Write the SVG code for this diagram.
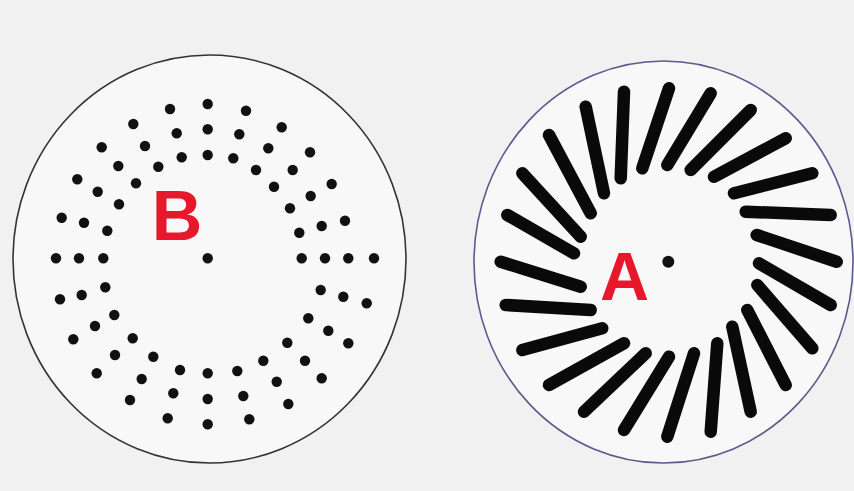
<svg xmlns="http://www.w3.org/2000/svg" width="854" height="491" viewBox="0 0 854 491">
<style>
.bg{fill:#f1f1f1}
.ring{fill:#f8f8f8;stroke-width:1.6}
.d{fill:#111}
.bar{stroke:#0a0a0a;stroke-width:12.5;stroke-linecap:round;fill:none}
.lbl{font-family:"Liberation Sans",Arial,sans-serif;font-weight:bold;fill:#e8182c;text-anchor:middle}
</style>
<rect class="bg" x="0" y="0" width="854" height="491"/>
<g id="diagramB">
<ellipse class="ring" cx="209.5" cy="259" rx="196.5" ry="204" stroke="#333"/>
<g id="dotsB">
<circle class="d" cx="207.7" cy="104" r="5.2"/><circle class="d" cx="207.7" cy="129.3" r="5.2"/><circle class="d" cx="207.7" cy="155" r="5.2"/>
<circle class="d" cx="170" cy="109" r="5.2"/><circle class="d" cx="176.7" cy="133.3" r="5.2"/><circle class="d" cx="181.7" cy="157.3" r="5.2"/>
<circle class="d" cx="246" cy="110.7" r="5.2"/><circle class="d" cx="239.3" cy="134.3" r="5.2"/><circle class="d" cx="233.3" cy="158.3" r="5.2"/>
<circle class="d" cx="133.3" cy="124" r="5.2"/><circle class="d" cx="145" cy="146" r="5.2"/><circle class="d" cx="158.3" cy="166.7" r="5.2"/>
<circle class="d" cx="281.7" cy="127.3" r="5.2"/><circle class="d" cx="268.3" cy="148.3" r="5.2"/><circle class="d" cx="256" cy="170" r="5.2"/>
<circle class="d" cx="101.7" cy="147.3" r="5.2"/><circle class="d" cx="118.3" cy="166" r="5.2"/><circle class="d" cx="136" cy="183.3" r="5.2"/>
<circle class="d" cx="310" cy="152.3" r="5.2"/><circle class="d" cx="292.7" cy="170" r="5.2"/><circle class="d" cx="274" cy="186.7" r="5.2"/>
<circle class="d" cx="77.3" cy="179.3" r="5.2"/><circle class="d" cx="97.7" cy="191.7" r="5.2"/><circle class="d" cx="119" cy="204.3" r="5.2"/>
<circle class="d" cx="331.7" cy="184" r="5.2"/><circle class="d" cx="310.7" cy="196" r="5.2"/><circle class="d" cx="290" cy="208.3" r="5.2"/>
<circle class="d" cx="61.7" cy="217.7" r="5.2"/><circle class="d" cx="84" cy="222.7" r="5.2"/><circle class="d" cx="107.3" cy="230.7" r="5.2"/>
<circle class="d" cx="345" cy="220.7" r="5.2"/><circle class="d" cx="321.7" cy="226" r="5.2"/><circle class="d" cx="299.3" cy="232.7" r="5.2"/>
<circle class="d" cx="56" cy="258.3" r="5.2"/><circle class="d" cx="79" cy="258.3" r="5.2"/><circle class="d" cx="103.3" cy="258.3" r="5.2"/>
<circle class="d" cx="301.7" cy="258.3" r="5.2"/><circle class="d" cx="325" cy="258.3" r="5.2"/><circle class="d" cx="348.3" cy="258.3" r="5.2"/><circle class="d" cx="374" cy="258.3" r="5.2"/>
<circle class="d" cx="60" cy="299.3" r="5.2"/><circle class="d" cx="81.7" cy="295" r="5.2"/><circle class="d" cx="105.3" cy="287.3" r="5.2"/>
<circle class="d" cx="366.7" cy="303.3" r="5.2"/><circle class="d" cx="343.3" cy="296.7" r="5.2"/><circle class="d" cx="320.7" cy="290" r="5.2"/>
<circle class="d" cx="73.3" cy="339.3" r="5.2"/><circle class="d" cx="95" cy="326" r="5.2"/><circle class="d" cx="114.3" cy="315" r="5.2"/>
<circle class="d" cx="348.3" cy="343.3" r="5.2"/><circle class="d" cx="328.3" cy="330.7" r="5.2"/><circle class="d" cx="308.3" cy="318.3" r="5.2"/>
<circle class="d" cx="96.7" cy="373.3" r="5.2"/><circle class="d" cx="115" cy="355" r="5.2"/><circle class="d" cx="132.7" cy="338.3" r="5.2"/>
<circle class="d" cx="321.7" cy="378.3" r="5.2"/><circle class="d" cx="305" cy="360.7" r="5.2"/><circle class="d" cx="287.3" cy="342.7" r="5.2"/>
<circle class="d" cx="130" cy="400" r="5.2"/><circle class="d" cx="141.7" cy="379" r="5.2"/><circle class="d" cx="153.3" cy="356.7" r="5.2"/>
<circle class="d" cx="288.3" cy="404" r="5.2"/><circle class="d" cx="276.7" cy="381.7" r="5.2"/><circle class="d" cx="263.3" cy="360.7" r="5.2"/>
<circle class="d" cx="167.7" cy="418.3" r="5.2"/><circle class="d" cx="173.3" cy="393.3" r="5.2"/><circle class="d" cx="180" cy="370" r="5.2"/>
<circle class="d" cx="249.3" cy="419.3" r="5.2"/><circle class="d" cx="243.3" cy="396" r="5.2"/><circle class="d" cx="237.3" cy="371" r="5.2"/>
<circle class="d" cx="207.7" cy="424.3" r="5.2"/><circle class="d" cx="207.7" cy="399" r="5.2"/><circle class="d" cx="207.7" cy="373.3" r="5.2"/>
<circle class="d" cx="207.7" cy="258.3" r="5.2"/>
</g>
<text class="lbl" x="177" y="240" font-size="70">B</text>
</g>
<g id="diagramA">
<ellipse class="ring" cx="663.5" cy="262" rx="189.5" ry="201" stroke="#5a5a8e"/>
<g id="barsA">
<line class="bar" x1="624" y1="91.7" x2="620.7" y2="178.3"/>
<line class="bar" x1="669" y1="88.3" x2="642.3" y2="168.3"/>
<line class="bar" x1="710.7" y1="93.3" x2="667.3" y2="165"/>
<line class="bar" x1="750.7" y1="110" x2="690.7" y2="170"/>
<line class="bar" x1="785.7" y1="138.3" x2="714" y2="176.7"/>
<line class="bar" x1="812.3" y1="173.3" x2="734" y2="193.3"/>
<line class="bar" x1="830.7" y1="215" x2="745.7" y2="211.7"/>
<line class="bar" x1="836.7" y1="261.7" x2="756.7" y2="235"/>
<line class="bar" x1="830.7" y1="305" x2="759" y2="263.3"/>
<line class="bar" x1="812.3" y1="348.3" x2="757.3" y2="285"/>
<line class="bar" x1="785.7" y1="385" x2="747.3" y2="310"/>
<line class="bar" x1="750.7" y1="411.7" x2="732.3" y2="326.7"/>
<line class="bar" x1="710.7" y1="431.7" x2="717.3" y2="343.3"/>
<line class="bar" x1="667.3" y1="436.7" x2="694" y2="353.3"/>
<line class="bar" x1="624" y1="430" x2="669" y2="356.7"/>
<line class="bar" x1="584" y1="411.7" x2="645.7" y2="353.3"/>
<line class="bar" x1="549" y1="385" x2="624" y2="343.3"/>
<line class="bar" x1="522.3" y1="350" x2="602.3" y2="328.3"/>
<line class="bar" x1="505.7" y1="305" x2="590.7" y2="310"/>
<line class="bar" x1="500.7" y1="261.7" x2="580.7" y2="286.7"/>
<line class="bar" x1="507.3" y1="215" x2="574" y2="253.3"/>
<line class="bar" x1="522.3" y1="173.3" x2="580.7" y2="236.7"/>
<line class="bar" x1="549" y1="135" x2="590.7" y2="213.3"/>
<line class="bar" x1="585.7" y1="106.7" x2="604" y2="193.3"/>
</g>
<circle class="d" cx="668.3" cy="261.7" r="6"/>
<text class="lbl" x="624.5" y="300" font-size="68">A</text>
</g>
</svg>
